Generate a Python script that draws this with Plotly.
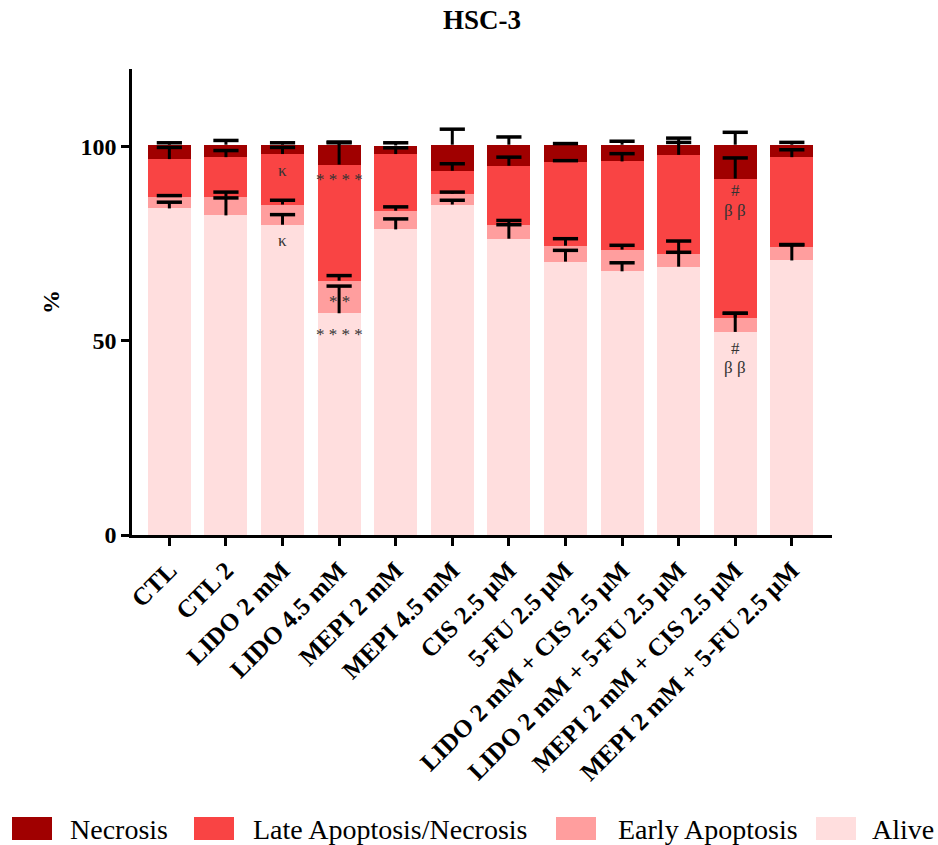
import numpy as np
import plotly.graph_objects as go

categories = ["CTL", "CTL 2", "LIDO 2 mM", "LIDO 4.5 mM", "MEPI 2 mM", "MEPI 4.5 mM",
              "CIS 2.5 µM", "5-FU 2.5 µM", "LIDO 2 mM + CIS 2.5 µM",
              "LIDO 2 mM + 5-FU 2.5 µM", "MEPI 2 mM + CIS 2.5 µM", "MEPI 2 mM + 5-FU 2.5 µM"]

alive    = [84.1, 82.3, 79.9, 57.1, 78.7, 85.1, 76.3, 70.4, 67.9, 69.1, 52.3, 70.7]
early    = [3.0, 4.8, 5.2, 8.4, 4.8, 2.8, 3.6, 4.1, 5.6, 3.3, 3.7, 3.4]
late     = [9.7, 10.2, 13.0, 29.9, 14.6, 5.9, 15.2, 21.6, 22.7, 25.5, 35.8, 23.2]
necrosis = [3.7, 3.2, 2.4, 5.1, 2.2, 6.7, 5.4, 4.4, 4.3, 2.6, 8.7, 3.2]

sd_alive    = [1.6, 4.5, 2.6, 7.0, 2.7, 1.1, 3.6, 2.9, 2.2, 3.7, 4.8, 4.0]
sd_early    = [0.3, 1.2, 1.1, 1.3, 1.0, 0.4, 1.1, 1.8, 1.1, 3.3, 1.1, 0.7]
sd_late     = [3.0, 1.7, 1.7, 5.8, 1.6, 1.8, 2.2, 0.3, 2.0, 3.2, 5.3, 1.9]
sd_necrosis = [0.5, 1.1, 0.5, 0.5, 0.7, 4.0, 2.0, 0.3, 0.9, 1.7, 3.2, 0.6]

ann_cat  = ["LIDO 2 mM", "LIDO 2 mM", "LIDO 4.5 mM", "LIDO 4.5 mM", "LIDO 4.5 mM",
            "MEPI 2 mM + CIS 2.5 µM", "MEPI 2 mM + CIS 2.5 µM",
            "MEPI 2 mM + CIS 2.5 µM", "MEPI 2 mM + CIS 2.5 µM"]
ann_y    = [93.9, 75.9, 91.5, 60.2, 51.7, 88.8, 83.6, 48.0, 43.1]
ann_text = ["κ", "κ", "* * * *", "* *", "* * * *", "#", "β β", "#", "β β"]

legend_names = ["Necrosis", "Late Apoptosis/Necrosis", "Early Apoptosis", "Alive"]

colors = {"Alive": "#FFDEDE", "Early Apoptosis": "#FF9E9E",
          "Late Apoptosis/Necrosis": "#F94444", "Necrosis": "#A00000"}

series = [("Alive", alive, sd_alive), ("Early Apoptosis", early, sd_early),
          ("Late Apoptosis/Necrosis", late, sd_late), ("Necrosis", necrosis, sd_necrosis)]

fig = go.Figure()
for name, vals, sd in series:
    fig.add_bar(x=categories, y=vals, name=name, marker_color=colors[name],
                marker_line_width=0, showlegend=False)

# one-sided (upward) error bars: stem from the segment top, cap only at the upper end
cum = np.zeros(len(categories))
for name, vals, sd in series:
    cum = cum + np.array(vals)
    fig.add_scatter(x=categories, y=cum, mode="markers",
                    marker=dict(size=1, color="rgba(0,0,0,0)"),
                    error_y=dict(type="data", array=sd, arrayminus=[0] * len(sd),
                                 symmetric=False, color="black", thickness=3, width=0),
                    showlegend=False, hoverinfo="skip")
    fig.add_scatter(x=categories, y=cum + np.array(sd), mode="markers",
                    marker=dict(symbol="line-ew", size=18,
                                line=dict(width=3.5, color="black")),
                    showlegend=False, hoverinfo="skip")

serif = "Liberation Serif, Times New Roman, serif"

for c, yv, t in zip(ann_cat, ann_y, ann_text):
    fig.add_annotation(x=c, y=yv, text=t, showarrow=False,
                       font=dict(family=serif, size=17, color="#333333"))

# manual legend (big rectangular swatches)
L, R, T, B = 132, 832, 69, 535
def px(x):
    return (x - L) / (R - L)
def py(y):
    return (B - y) / (B - T)

sw_x = [12, 194, 556, 816]
tx_x = [68, 251, 616, 870]
for name, sx, tx in zip(legend_names, sw_x, tx_x):
    fig.add_shape(type="rect", xref="paper", yref="paper",
                  x0=px(sx), x1=px(sx + 40), y0=py(840), y1=py(817),
                  fillcolor=colors[name], line_width=0)
    fig.add_annotation(xref="paper", yref="paper", x=px(tx), y=py(829),
                       xanchor="left", yanchor="middle", text=name, showarrow=False,
                       font=dict(family=serif, size=28, color="black"))

fig.update_layout(
    width=938, height=845,
    margin=dict(l=L, r=938 - R, t=T, b=845 - B),
    barmode="stack", bargap=0.24,
    plot_bgcolor="white", paper_bgcolor="white",
    title=dict(text="HSC-3", x=(L + R) / 2 / 938, xanchor="center",
               y=1 - 20 / 845, yanchor="middle",
               font=dict(family=serif, size=27, color="black", weight="bold")),
    xaxis=dict(range=[-0.66, 11.71], showline=True, linewidth=2.5, linecolor="black",
               ticks="outside", ticklen=8, tickwidth=2.5, tickcolor="black",
               tickangle=-45, showgrid=False, zeroline=False,
               tickfont=dict(family=serif, size=25, color="black", weight="bold")),
    yaxis=dict(range=[0, 120], tickvals=[0, 50, 100], showline=True, linewidth=2.5,
               linecolor="black", ticks="outside", ticklen=8, tickwidth=2.5,
               tickcolor="black", showgrid=False, zeroline=False,
               tickfont=dict(family=serif, size=24, color="black", weight="bold"),
               title=dict(text="%", standoff=15,
                          font=dict(family=serif, size=24, color="black", weight="bold"))),
)

fig.write_html("out.html")
